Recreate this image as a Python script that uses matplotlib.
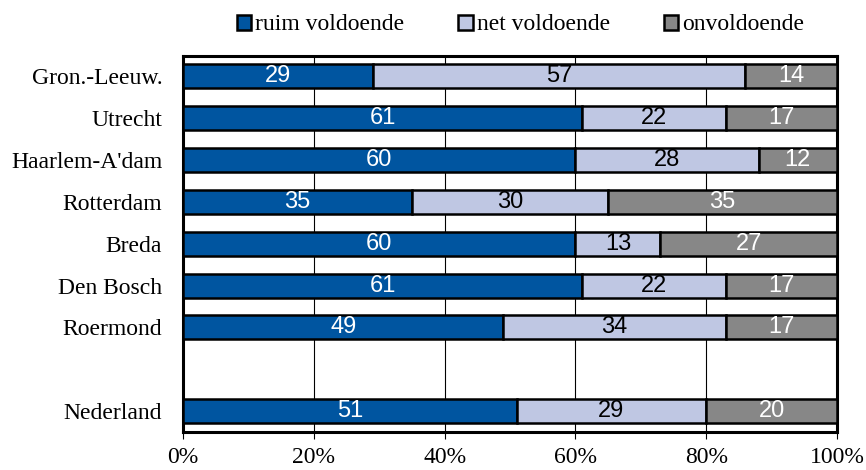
import numpy as np
import matplotlib.pyplot as plt
from matplotlib.patches import Patch

categories = ["Gron.-Leeuw.", "Utrecht", "Haarlem-A'dam", "Rotterdam", "Breda",
              "Den Bosch", "Roermond", "", "Nederland"]
ruim = [29, 61, 60, 35, 60, 61, 49, None, 51]
net = [57, 22, 28, 30, 13, 22, 34, None, 29]
onv = [14, 17, 12, 35, 27, 17, 17, None, 20]
series_names = ["ruim voldoende", "net voldoende", "onvoldoende"]
colors = ["#0055A0", "#BFC7E3", "#878787"]
text_colors = ["white", "black", "white"]

serif = "Liberation Serif"
sans = "Liberation Sans"

fig = plt.figure(figsize=(8.66, 4.70), dpi=100)
ax = fig.add_axes([183 / 866, 1 - 432 / 470, (837 - 183) / 866, (432 - 55.5) / 470])

for i, cat in enumerate(categories):
    if ruim[i] is None:
        continue
    left = 0
    for vals, c, tc in zip([ruim, net, onv], colors, text_colors):
        v = vals[i]
        ax.barh(i, v, left=left, height=0.57, color=c, edgecolor="black",
                linewidth=1.8, zorder=3)
        ax.text(left + v / 2, i, str(v), ha="center", va="center",
                color=tc, fontsize=17, family=sans, zorder=4)
        left += v

ax.set_xlim(0, 100)
ax.set_ylim(8.5, -0.5)
ax.set_xticks(np.arange(0, 101, 20))
ax.set_xticklabels([f"{t}%" for t in range(0, 101, 20)], family=serif, fontsize=17)
ax.set_yticks(range(len(categories)))
ax.set_yticklabels(categories, family=serif, fontsize=17)
ax.tick_params(axis="y", length=0, pad=15)
ax.tick_params(axis="x", length=5, width=0.8, pad=6)
ax.xaxis.grid(True, color="black", linewidth=0.8, zorder=0)
ax.set_axisbelow(True)
for s in ax.spines.values():
    s.set_linewidth(2.2)

handles = [Patch(facecolor=c, edgecolor="black", linewidth=1.8) for c in colors]
fig.legend(handles, series_names, loc="center", bbox_to_anchor=(0.601, 1 - 25 / 470),
           ncol=3, frameon=False, prop={"family": serif, "size": 17},
           handlelength=0.6, handleheight=0.6, handletextpad=0.17, columnspacing=2.3)

fig.savefig("out.png", dpi=100)
